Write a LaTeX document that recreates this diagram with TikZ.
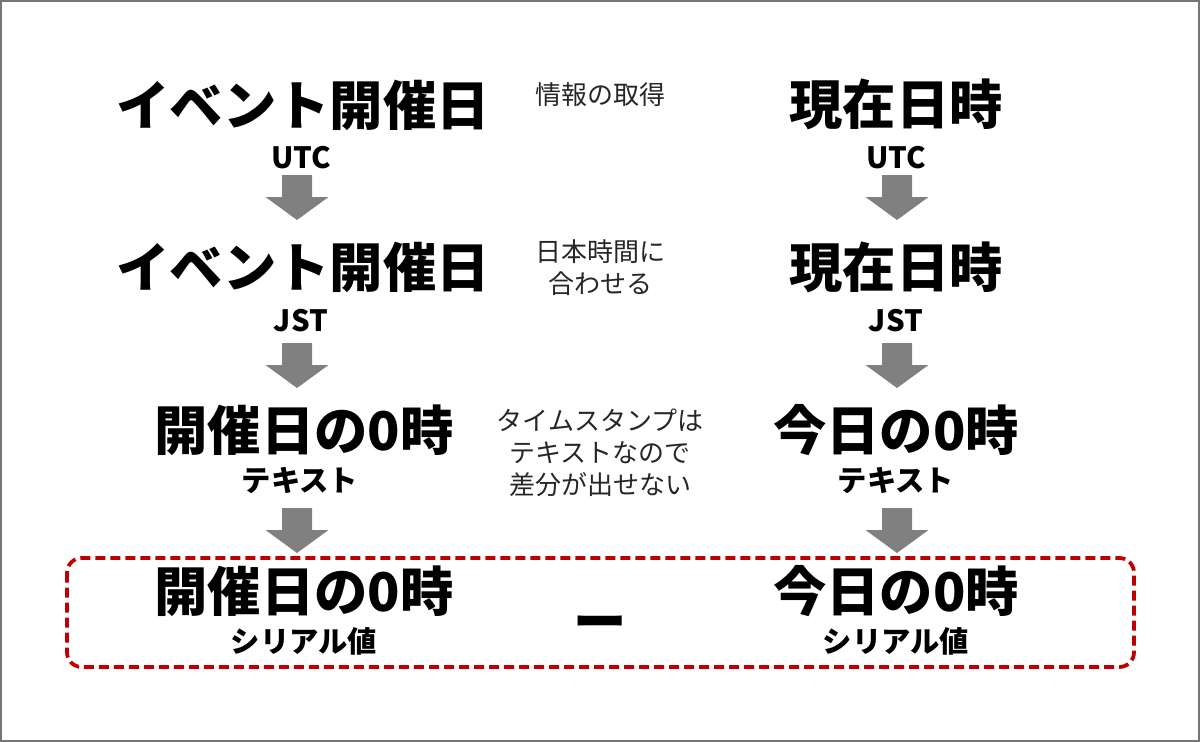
\documentclass[tikz,border=0pt]{standalone}
\usepackage{fontspec}
\usepackage{xcolor}
\setmainfont{Noto Sans CJK JP}
\definecolor{framegray}{RGB}{118, 118, 118}
\definecolor{arrowgray}{RGB}{128, 128, 128}
\definecolor{markred}{RGB}{192, 0, 0}
\usetikzlibrary{positioning}

\begin{document}
\begin{tikzpicture}[x=0.75pt, y=-0.75pt, every node/.style={inner sep=0pt}]
    % Define styles
    \tikzset{
        title/.style={font=\fontsize{40}{48}\selectfont\bfseries},
        subtitle/.style={font=\fontsize{22}{26}\selectfont\bfseries},
        note/.style={font=\fontsize{19.5}{24}\selectfont, text=black!85, align=center},
        blockarrow/.pic={\fill[arrowgray] (-15,0) -- (15,0) -- (15,22) -- (31.5,22)
                         -- (0,45) -- (-31.5,22) -- (-15,22) -- cycle;}
    }
    \useasboundingbox (0,0) rectangle (1200,742);
    \draw[framegray, line width=1.5pt] (1,1) rectangle (1199,741);

    % Row 1: UTC
    \node[title] (eventutc) at (303,105) {イベント開催日};
    \node[subtitle] (eventutclbl) at (301,158) {UTC};
    \node[title] (nowutc) at (896,104) {現在日時};
    \node[subtitle] (nowutclbl) at (896,158) {UTC};
    \node[note] (fetch) at (600,95) {情報の取得};

    \pic (arrowleftA) at (297,175) {blockarrow};
    \pic (arrowrightA) at (897,175) {blockarrow};

    % Row 2: JST
    \node[title] (eventjst) at (303,267) {イベント開催日};
    \node[subtitle] (eventjstlbl) at (301,321) {JST};
    \node[title] (nowjst) at (896,267) {現在日時};
    \node[subtitle] (nowjstlbl) at (896,321) {JST};
    \node[note] (tojst) at (600,268) {日本時間に\\合わせる};

    \pic (arrowleftB) at (297,343) {blockarrow};
    \pic (arrowrightB) at (897,343) {blockarrow};

    % Row 3: text
    \node[title] (eventzero) at (304,430) {開催日の0時};
    \node[subtitle] (eventzerolbl) at (300,480) {テキスト};
    \node[title] (todayzero) at (896,430) {今日の0時};
    \node[subtitle] (todayzerolbl) at (896,480) {テキスト};
    \node[note] (nodiff) at (600,453) {タイムスタンプは\\テキストなので\\差分が出せない};

    \pic (arrowleftC) at (297,508) {blockarrow};
    \pic (arrowrightC) at (897,508) {blockarrow};

    % Row 4: serial value
    \node[title] (eventserial) at (304,591) {開催日の0時};
    \node[subtitle] (eventseriallbl) at (304,641) {シリアル値};
    \node[title] (todayserial) at (896,591) {今日の0時};
    \node[subtitle] (todayseriallbl) at (896,641) {シリアル値};
    \node[title] (minus) at (600,629) {ー};

    \draw[markred, line width=2.8pt, rounded corners=11pt, dash pattern=on 7.5pt off 3.75pt]
        (67,558) rectangle (1134,667);
\end{tikzpicture}
\end{document}
